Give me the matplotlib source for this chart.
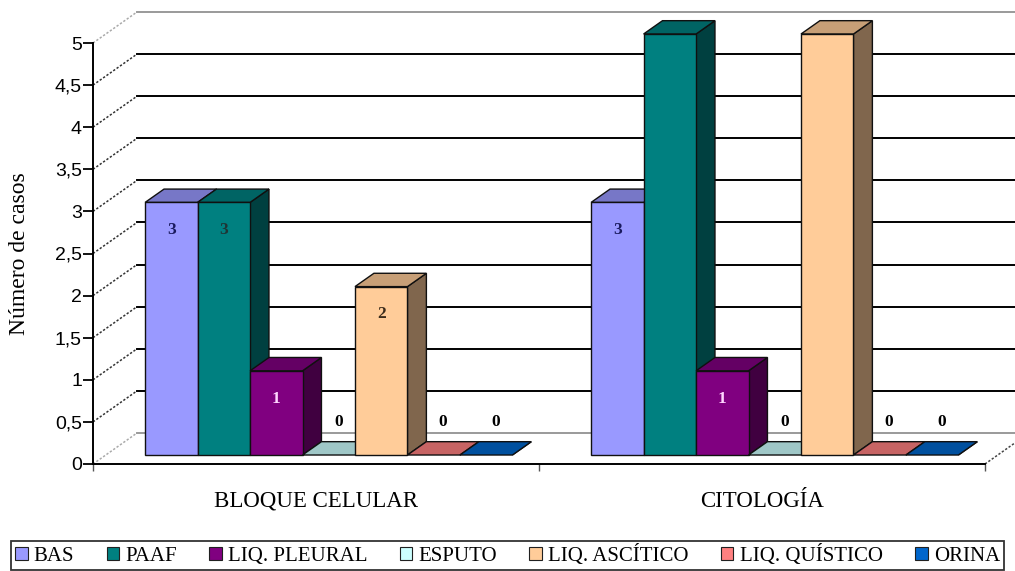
import numpy as np
import matplotlib
matplotlib.use("Agg")
import matplotlib.pyplot as plt
from matplotlib.patches import Polygon, Patch
from matplotlib.colors import to_rgb

# datos
categorias = ["BLOQUE CELULAR", "CITOLOGÍA"]
series = ["BAS", "PAAF", "LIQ. PLEURAL", "ESPUTO", "LIQ. ASCÍTICO", "LIQ. QUÍSTICO", "ORINA"]
bloque_celular = [3, 3, 1, 0, 2, 0, 0]
citologia = [3, 5, 1, 0, 5, 0, 0]
valores = [bloque_celular, citologia]

colores = ["#9999ff", "#008080", "#800080", "#ccffff", "#ffcc99", "#ff8080", "#0066cc"]
colores_etiqueta = ["#1a1a5e", "#1f3535", "#ffd6ff", "#000000", "#3b2b1b", "#000000", "#000000"]

y_ticks = np.arange(0, 5.01, 0.5)

# figura
W, H = 1015, 571
fig = plt.figure(figsize=(W / 100, H / 100), dpi=100)
x0_px, y0_px, x1_px, y1_px = 93, 464, 985, 43
ax = fig.add_axes([x0_px / W, 1 - y0_px / H, (x1_px - x0_px) / W, (y0_px - y1_px) / H])
ax.set_xlim(0, 2)
ax.set_ylim(0, 5)
px_x = (x1_px - x0_px) / 2.0
px_y = (y0_px - y1_px) / 5.0

# profundidad (pixeles para profundidad 1 = pared del fondo)
PROF_X, PROF_Y = 44, 31
D_FRENTE, D_FONDO = 0.29, 0.72


def pt(x, y, d):
    return (x + d * PROF_X / px_x, y + d * PROF_Y / px_y)


serif = "Liberation Serif"
sans = "Liberation Sans"

# pared del fondo y lateral
for v in y_ticks:
    col = "#9a9a9a" if v in (0, 5) else "black"
    a, b = pt(0, v, 1), pt(2.2, v, 1)
    ax.plot([a[0], b[0]], [a[1], b[1]], color=col, lw=1.4, clip_on=False, zorder=1)
    c = pt(0, v, 0)
    ax.plot([c[0], a[0]], [c[1], a[1]], color="#333333" if v not in (0, 5) else "#aaaaaa",
            lw=1.1, ls=(0, (1.5, 1.2)), clip_on=False, zorder=1)
a, b = pt(2, 0, 0), pt(2, 0, 1)
ax.plot([a[0], b[0]], [a[1], b[1]], color="#444444", lw=1.1, ls=(0, (1.5, 1.2)),
        clip_on=False, zorder=1)

# barras 3D
n = len(series)
w = 1.0 / (n + 1.5)


def oscuro(c, f):
    r, g, b = to_rgb(c)
    return (r * f, g * f, b * f)


z = 2
for ci, vals in enumerate(valores):
    for si, v in enumerate(vals):
        xl = ci + 0.75 * w + si * w
        xr = xl + w
        col = colores[si]
        ec = "#101010"
        # cara lateral
        lado = [pt(xr, 0, D_FRENTE), pt(xr, 0, D_FONDO), pt(xr, v, D_FONDO), pt(xr, v, D_FRENTE)]
        ax.add_patch(Polygon(lado, closed=True, fc=oscuro(col, 0.5), ec=ec, lw=1,
                             clip_on=False, zorder=z))
        # cara superior
        sup = [pt(xl, v, D_FRENTE), pt(xr, v, D_FRENTE), pt(xr, v, D_FONDO), pt(xl, v, D_FONDO)]
        ax.add_patch(Polygon(sup, closed=True, fc=oscuro(col, 0.78), ec=ec, lw=1,
                             clip_on=False, zorder=z))
        # cara frontal
        if v > 0:
            fr = [pt(xl, 0, D_FRENTE), pt(xr, 0, D_FRENTE), pt(xr, v, D_FRENTE), pt(xl, v, D_FRENTE)]
            ax.add_patch(Polygon(fr, closed=True, fc=col, ec=ec, lw=1,
                                 clip_on=False, zorder=z))
            ax.annotate(str(v), xy=pt((xl + xr) / 2, v, D_FRENTE), xytext=(0, -20),
                        textcoords="offset points", ha="center", va="center",
                        fontsize=12.5, fontweight="bold", family=serif,
                        color=colores_etiqueta[si], zorder=z + 1)
        else:
            ax.annotate(str(v), xy=pt((xl + xr) / 2, 0, (D_FRENTE + D_FONDO) / 2),
                        xytext=(0, 19), textcoords="offset points", ha="center",
                        va="center", fontsize=12.5, fontweight="bold", family=serif,
                        color="black", zorder=z + 1)
        z += 1

# ejes
for s in ("top", "right"):
    ax.spines[s].set_visible(False)
ax.spines["left"].set_linewidth(1.4)
ax.spines["bottom"].set_linewidth(1.4)
ax.spines["left"].set_zorder(50)
ax.spines["bottom"].set_zorder(50)
ax.set_yticks(y_ticks)
ax.set_yticklabels([("%g" % t).replace(".", ",") for t in y_ticks], family=sans, fontsize=14)
ax.tick_params(axis="y", length=7, width=1.3, pad=1)
ax.set_xticks([0, 1, 2])
ax.set_xticklabels(["", "", ""])
ax.tick_params(axis="x", length=5, width=1.0, color="#555555")
ax.patch.set_visible(False)

for ci, cat in enumerate(categorias):
    ax.annotate(cat, xy=(ci + 0.5, 0), xytext=(0, -27), textcoords="offset points",
                ha="center", va="center", fontsize=16.5, family=serif)

fig.text(20 / W, 1 - 254 / H, "Número de casos", rotation=90, ha="center", va="center",
         fontsize=17, family=serif)

# leyenda
handles = [Patch(fc=c, ec="#202020", lw=0.8) for c in colores]
leg = fig.legend(handles, series, loc="lower center", bbox_to_anchor=(0.5, 0.002),
                 borderaxespad=0, ncol=n, frameon=True, fancybox=False, edgecolor="black",
                 borderpad=0.2, handlelength=0.6, handleheight=0.6,
                 handletextpad=0.3, columnspacing=1.55,
                 prop={"family": serif, "size": 15})
leg.get_frame().set_linewidth(1.3)

fig.savefig("out.png", dpi=100)
